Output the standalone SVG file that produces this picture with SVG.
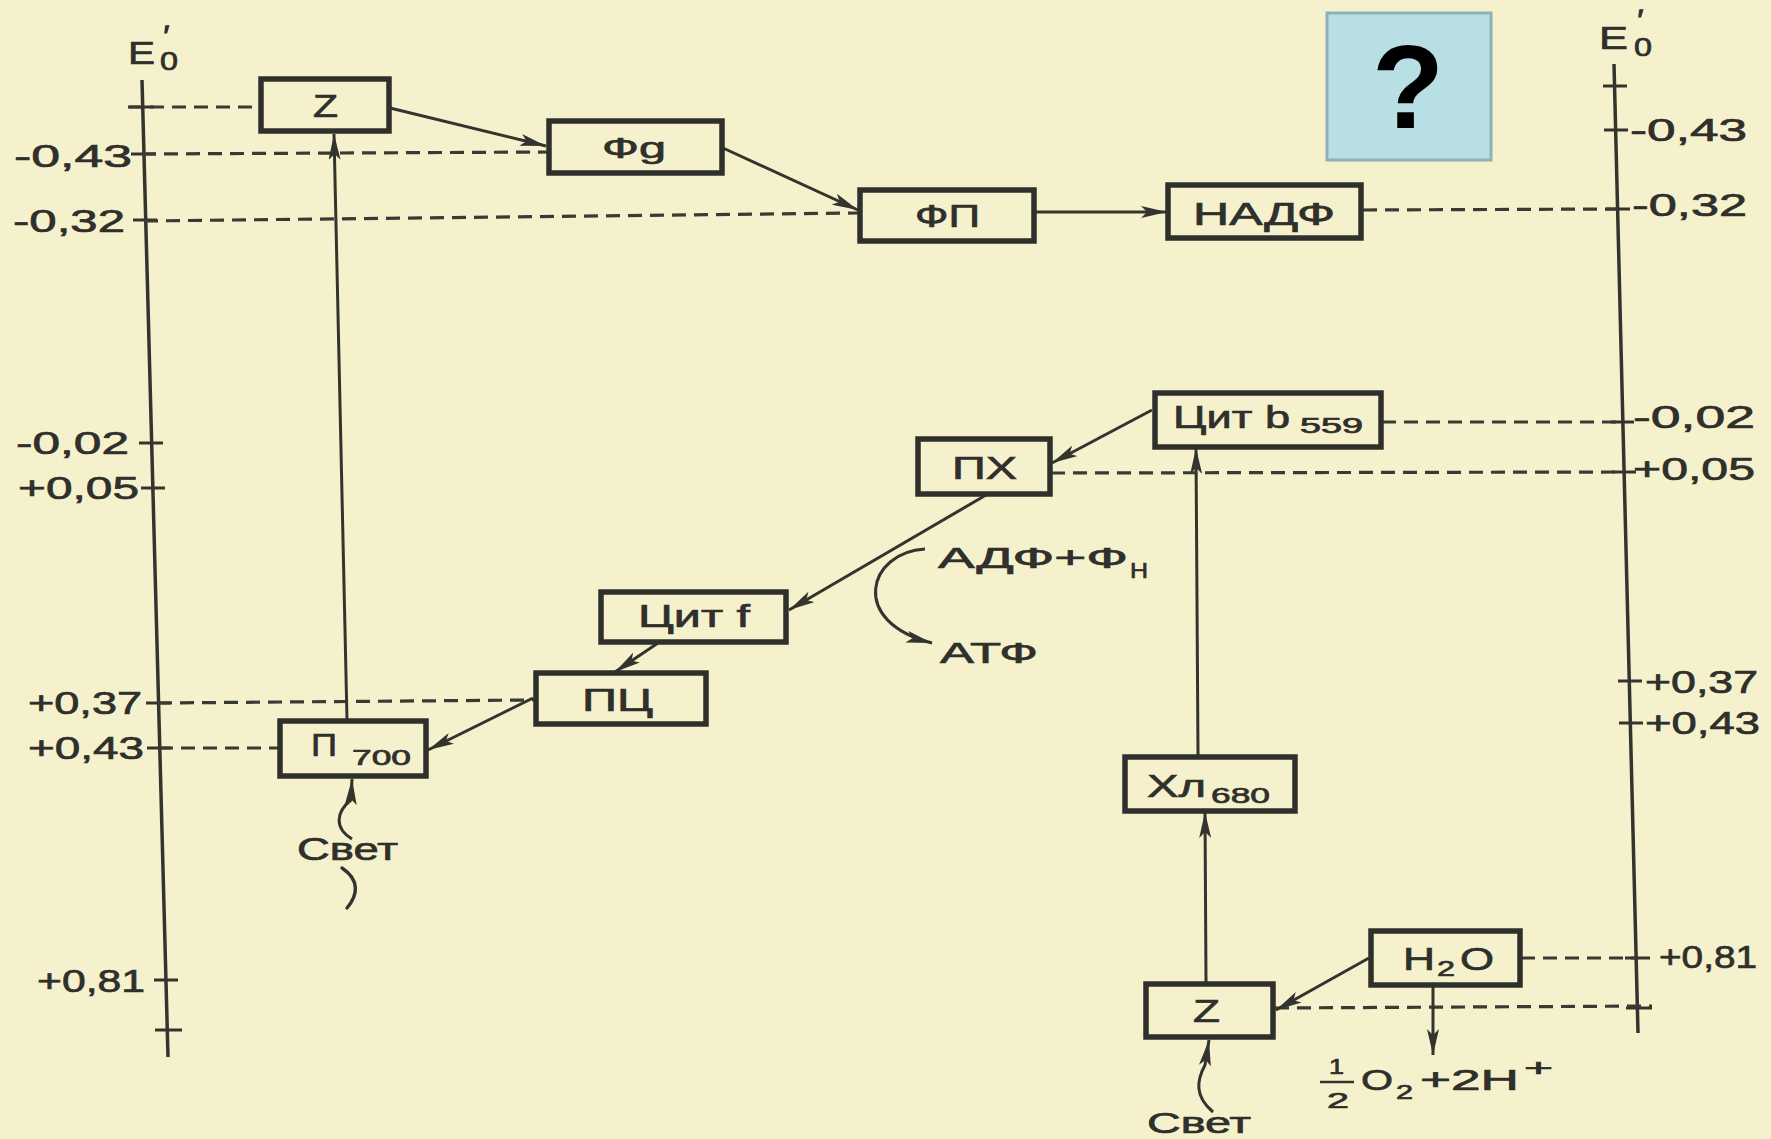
<svg xmlns="http://www.w3.org/2000/svg" width="1771" height="1139" viewBox="0 0 1771 1139">
<defs>
<style>
.bg{fill:#f6f1cd}
.box{fill:none;stroke:#2f2f2b;stroke-width:5.5}
.ax{stroke:#34342f;stroke-width:3.5;fill:none}
.tk{stroke:#34342f;stroke-width:3}
.ds{stroke:#3a3a35;stroke-width:3.2;stroke-dasharray:14 8;fill:none}
.ar{stroke:#34342f;stroke-width:3;fill:none;marker-end:url(#ah)}
.sq{stroke:#34342f;stroke-width:3.4;fill:none;stroke-linecap:round}
text{font-family:"Liberation Sans",Arial,sans-serif;fill:#2f2f2b;stroke:#2f2f2b;stroke-width:0.7}
.lb{font-size:32px}
.nl{font-size:32px}
.sb{font-size:22px}
.pr{font-size:26px;stroke-width:1.6}
</style>
<marker id="ah" viewBox="0 0 26 12" refX="26" refY="6" markerWidth="26" markerHeight="12" markerUnits="userSpaceOnUse" orient="auto">
<path d="M0,0 L26,6 L0,12 L6,6 z" fill="#34342f"/>
</marker>
</defs>
<rect class="bg" x="0" y="0" width="1771" height="1139"/>

<g id="axis-left">
<line class="ax" x1="142" y1="80" x2="168" y2="1057"/>
<line class="tk" x1="129" y1="107" x2="154" y2="107"/>
<line class="tk" x1="131" y1="154" x2="156" y2="154"/>
<line class="tk" x1="133" y1="220" x2="157" y2="220"/>
<line class="tk" x1="139" y1="443" x2="163" y2="443"/>
<line class="tk" x1="141" y1="488" x2="165" y2="488"/>
<line class="tk" x1="146" y1="703" x2="170" y2="703"/>
<line class="tk" x1="147" y1="748" x2="171" y2="748"/>
<line class="tk" x1="154" y1="980" x2="178" y2="980"/>
<line class="tk" x1="155" y1="1030" x2="182" y2="1030"/>
<text x="128" y="64" font-size="31" textLength="27" lengthAdjust="spacingAndGlyphs">E</text>
<text class="pr" x="164" y="44">′</text>
<text x="160" y="70" font-size="25" textLength="18" lengthAdjust="spacingAndGlyphs">0</text>
<text class="lb" x="14" y="167" textLength="118" lengthAdjust="spacingAndGlyphs">-0,43</text>
<text class="lb" x="13" y="232" textLength="112" lengthAdjust="spacingAndGlyphs">-0,32</text>
<text class="lb" x="16" y="454" textLength="113" lengthAdjust="spacingAndGlyphs">-0,02</text>
<text class="lb" x="18" y="499" textLength="121" lengthAdjust="spacingAndGlyphs">+0,05</text>
<text class="lb" x="28" y="714" textLength="114" lengthAdjust="spacingAndGlyphs">+0,37</text>
<text class="lb" x="28" y="759" textLength="116" lengthAdjust="spacingAndGlyphs">+0,43</text>
<text class="lb" x="37" y="992" textLength="108" lengthAdjust="spacingAndGlyphs">+0,81</text>
</g>

<g id="axis-right">
<line class="ax" x1="1614" y1="64" x2="1638" y2="1033"/>
<line class="tk" x1="1603" y1="86" x2="1627" y2="86"/>
<line class="tk" x1="1604" y1="130" x2="1628" y2="130"/>
<line class="tk" x1="1606" y1="209" x2="1630" y2="209"/>
<line class="tk" x1="1611" y1="422" x2="1634" y2="422"/>
<line class="tk" x1="1612" y1="472" x2="1636" y2="472"/>
<line class="tk" x1="1618" y1="681" x2="1642" y2="681"/>
<line class="tk" x1="1619" y1="723" x2="1643" y2="723"/>
<line class="tk" x1="1625" y1="958" x2="1650" y2="958"/>
<line class="tk" x1="1626" y1="1008" x2="1652" y2="1008"/>
<text x="1599" y="49" font-size="31" textLength="29" lengthAdjust="spacingAndGlyphs">E</text>
<text class="pr" x="1638" y="28">′</text>
<text x="1634" y="56" font-size="25" textLength="18" lengthAdjust="spacingAndGlyphs">0</text>
<text class="lb" x="1630" y="141" textLength="117" lengthAdjust="spacingAndGlyphs">-0,43</text>
<text class="lb" x="1632" y="216" textLength="115" lengthAdjust="spacingAndGlyphs">-0,32</text>
<text class="lb" x="1633" y="428" textLength="122" lengthAdjust="spacingAndGlyphs">-0,02</text>
<text class="lb" x="1633" y="480" textLength="122" lengthAdjust="spacingAndGlyphs">+0,05</text>
<text class="lb" x="1645" y="693" textLength="113" lengthAdjust="spacingAndGlyphs">+0,37</text>
<text class="lb" x="1645" y="734" textLength="115" lengthAdjust="spacingAndGlyphs">+0,43</text>
<text class="lb" x="1659" y="968" textLength="98" lengthAdjust="spacingAndGlyphs">+0,81</text>
</g>

<g id="question">
<rect x="1327" y="13" width="164" height="147" fill="#b7dfe4" stroke="#8fb0b8" stroke-width="3"/>
<text x="1408" y="128" font-size="118" font-weight="bold" text-anchor="middle" style="fill:#000;stroke:none">?</text>
</g>

<g id="connectors">
<line class="ds" x1="128" y1="107" x2="260" y2="107"/>
<line class="ds" x1="142" y1="154" x2="547" y2="152"/>
<line class="ds" x1="144" y1="221" x2="858" y2="213"/>
<line class="ds" x1="1363" y1="210" x2="1618" y2="209"/>
<line class="ds" x1="1382" y1="422" x2="1623" y2="422"/>
<line class="ds" x1="1051" y1="473" x2="1624" y2="472"/>
<line class="ds" x1="158" y1="703" x2="534" y2="700"/>
<line class="ds" x1="159" y1="748" x2="278" y2="748"/>
<line class="ds" x1="1521" y1="958" x2="1636" y2="958"/>
<line class="ds" x1="1275" y1="1008" x2="1652" y2="1006"/>

<line class="ar" x1="390" y1="108" x2="546" y2="146"/>
<line class="ar" x1="723" y1="148" x2="858" y2="210"/>
<line class="ar" x1="1035" y1="212" x2="1167" y2="212"/>
<line class="ar" x1="347" y1="720" x2="334" y2="134"/>
<line class="ar" x1="1152" y1="410" x2="1052" y2="463"/>
<line class="ar" x1="1198" y1="755" x2="1196" y2="448"/>
<line class="ar" x1="986" y1="495" x2="789" y2="610"/>
<line class="ar" x1="658" y1="643" x2="615" y2="672"/>
<line class="ar" x1="533" y1="698" x2="428" y2="750"/>
<line class="ar" x1="1206" y1="982" x2="1205" y2="812"/>
<line class="ar" x1="1369" y1="958" x2="1276" y2="1010"/>
<line class="ar" x1="1433" y1="985" x2="1433" y2="1055"/>
<path class="ar" d="M925,549 C868,552 848,622 932,643"/>
<path class="ar" d="M352,839 C334,828 336,812 351,800 L352,779"/>
<path class="sq" d="M342,868 C360,880 358,895 347,908"/>
<path class="ar" d="M1213,1112 C1194,1096 1197,1080 1205,1065 L1209,1040"/>
</g>

<g id="node-z-top">
<rect class="box" x="261" y="79" width="128" height="52"/>
<text class="nl" x="313" y="117" font-size="31" textLength="25" lengthAdjust="spacingAndGlyphs">Z</text>
</g>
<g id="node-fg">
<rect class="box" x="549" y="121" width="173" height="52"/>
<text x="602" y="158" font-size="30" textLength="64" lengthAdjust="spacingAndGlyphs">Фg</text>
</g>
<g id="node-fp">
<rect class="box" x="860" y="190" width="174" height="51"/>
<text class="nl" x="915" y="227" textLength="65" lengthAdjust="spacingAndGlyphs">ФП</text>
</g>
<g id="node-nadf">
<rect class="box" x="1168" y="185" width="193" height="53"/>
<text class="nl" x="1193" y="225" font-size="34" textLength="142" lengthAdjust="spacingAndGlyphs">НАДФ</text>
</g>
<g id="node-cyt-b559">
<rect class="box" x="1155" y="393" width="226" height="54"/>
<text class="nl" x="1173" y="428" font-size="30" textLength="117" lengthAdjust="spacingAndGlyphs">Цит b</text>
<text class="sb" x="1300" y="433" font-size="21" textLength="63" lengthAdjust="spacingAndGlyphs">559</text>
</g>
<g id="node-px">
<rect class="box" x="918" y="439" width="132" height="55"/>
<text class="nl" x="952" y="479" font-size="31" textLength="65" lengthAdjust="spacingAndGlyphs">ПХ</text>
</g>
<g id="node-cyt-f">
<rect class="box" x="601" y="592" width="185" height="50"/>
<text class="nl" x="638" y="627" textLength="112" lengthAdjust="spacingAndGlyphs">Цит f</text>
</g>
<g id="node-pc">
<rect class="box" x="536" y="673" width="170" height="51"/>
<text class="nl" x="582" y="711" textLength="71" lengthAdjust="spacingAndGlyphs">ПЦ</text>
</g>
<g id="node-p700">
<rect class="box" x="280" y="721" width="146" height="55"/>
<text class="nl" x="311" y="756" font-size="31" textLength="26" lengthAdjust="spacingAndGlyphs">П</text>
<text class="sb" x="352" y="765" textLength="59" lengthAdjust="spacingAndGlyphs">700</text>
</g>
<g id="node-xl680">
<rect class="box" x="1125" y="757" width="170" height="54"/>
<text class="nl" x="1147" y="797" font-size="31" textLength="59" lengthAdjust="spacingAndGlyphs">Хл</text>
<text class="sb" x="1211" y="803" textLength="59" lengthAdjust="spacingAndGlyphs">680</text>
</g>
<g id="node-z-bottom">
<rect class="box" x="1146" y="984" width="127" height="53"/>
<text class="nl" x="1193" y="1022" font-size="31" textLength="27" lengthAdjust="spacingAndGlyphs">Z</text>
</g>
<g id="node-h2o">
<rect class="box" x="1371" y="931" width="149" height="54"/>
<text class="nl" x="1403" y="970" textLength="32" lengthAdjust="spacingAndGlyphs">H</text>
<text class="sb" x="1437" y="976" textLength="18" lengthAdjust="spacingAndGlyphs">2</text>
<text class="nl" x="1460" y="970" textLength="34" lengthAdjust="spacingAndGlyphs">O</text>
</g>

<g id="labels">
<text x="938" y="568" font-size="30" textLength="190" lengthAdjust="spacingAndGlyphs">АДФ+Ф</text>
<text x="1130" y="578" font-size="22" textLength="18" lengthAdjust="spacingAndGlyphs">Н</text>
<text x="940" y="663" font-size="30" textLength="98" lengthAdjust="spacingAndGlyphs">АТФ</text>
<text x="297" y="860" font-size="31" textLength="101" lengthAdjust="spacingAndGlyphs">Свет</text>
<text x="1147" y="1133" font-size="30" textLength="104" lengthAdjust="spacingAndGlyphs">Свет</text>
<text x="1329" y="1074" font-size="22" textLength="15" lengthAdjust="spacingAndGlyphs">1</text>
<line x1="1320" y1="1082" x2="1354" y2="1082" stroke="#34342f" stroke-width="2.5"/>
<text x="1327" y="1108" font-size="22" textLength="22" lengthAdjust="spacingAndGlyphs">2</text>
<text x="1361" y="1090" font-size="30" textLength="32" lengthAdjust="spacingAndGlyphs">O</text>
<text x="1396" y="1099" font-size="20" textLength="17" lengthAdjust="spacingAndGlyphs">2</text>
<text x="1420" y="1090" font-size="30" textLength="99" lengthAdjust="spacingAndGlyphs">+2H</text>
<text x="1524" y="1076" font-size="24" textLength="29" lengthAdjust="spacingAndGlyphs">+</text>
</g>
</svg>
